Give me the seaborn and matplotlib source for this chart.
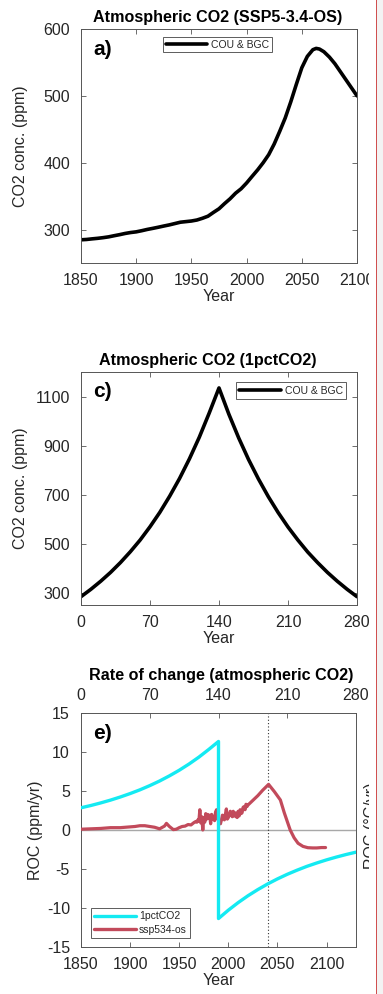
import numpy as np
import pandas as pd
import seaborn as sns
import matplotlib
matplotlib.use("Agg")
import matplotlib.pyplot as plt
from matplotlib.lines import Line2D
from matplotlib.patches import Rectangle

# ---------------- data ----------------
# Panel a: atmospheric CO2, SSP5-3.4-OS (historical + scenario)
ssp_years = [1850, 1855, 1860, 1865, 1870, 1875, 1880, 1885, 1890, 1895,
             1900, 1905, 1910, 1915, 1920, 1925, 1930, 1935, 1940, 1945,
             1950, 1955, 1960, 1965, 1970, 1975, 1980, 1985, 1990, 1995,
             2000, 2005, 2010, 2015, 2020, 2025, 2030, 2035, 2040, 2045,
             2050, 2055, 2060, 2063, 2066, 2070, 2075, 2080, 2085, 2090,
             2095, 2100]
ssp_co2 = [284.7, 285.2, 286.1, 286.9, 287.9, 289.1, 290.8, 292.4, 294.2, 295.6,
           296.6, 298.3, 300.2, 301.8, 303.5, 305.3, 307.0, 309.0, 311.0, 311.9,
           312.8, 314.3, 316.9, 320.0, 325.7, 331.1, 338.8, 346.0, 354.4, 361.0,
           369.7, 379.6, 389.3, 400.0, 412.0, 428.0, 447.0, 467.0, 491.0, 517.0,
           542.0, 559.0, 569.0, 571.0, 570.0, 566.0, 558.0, 548.0, 536.0, 524.0,
           512.0, 500.0]

# Panel c: atmospheric CO2, 1pctCO2 up / down
pct_years = [0, 10, 20, 30, 40, 50, 60, 70, 80, 90, 100, 110, 120, 130, 140,
             150, 160, 170, 180, 190, 200, 210, 220, 230, 240, 250, 260, 270, 280]
pct_co2 = [284, 314, 347, 383, 423, 467, 515, 569, 628, 694, 766, 846, 934, 1032, 1135,
           1028, 931, 843, 764, 692, 627, 568, 515, 466, 423, 383, 347, 314, 284]

# Panel e: rate of change, 1pctCO2 (top axis, model years)
roc_pct_years = [0, 10, 20, 30, 40, 50, 60, 70, 80, 90, 100, 110, 120, 130, 140,
                 140, 150, 160, 170, 180, 190, 200, 210, 220, 230, 240, 250, 260, 270, 280]
roc_pct = [2.85, 3.14, 3.47, 3.83, 4.23, 4.67, 5.15, 5.69, 6.28, 6.94, 7.66, 8.46, 9.34, 10.32, 11.35,
           -11.35, -10.28, -9.31, -8.43, -7.64, -6.92, -6.27, -5.68, -5.15, -4.66, -4.23, -3.83,
           -3.47, -3.14, -2.84]

# Panel e: rate of change, ssp534-os (bottom axis, calendar years)
roc_ssp_years = ([1850, 1860, 1870, 1880, 1890, 1900, 1905, 1910, 1915, 1920, 1925, 1930,
                  1935, 1937, 1940, 1944, 1947, 1950, 1953, 1956, 1959, 1962, 1965, 1967]
                 + list(range(1968, 2021))
                 + [2025, 2030, 2035, 2041, 2047, 2053, 2057, 2063, 2067, 2071, 2076,
                    2081, 2086, 2090, 2095, 2099])
roc_ssp = ([0.10, 0.15, 0.20, 0.30, 0.30, 0.40, 0.45, 0.55, 0.55, 0.45, 0.35, 0.15,
            0.50, 0.85, 0.45, 0.05, 0.10, 0.30, 0.45, 0.50, 0.70, 0.65, 0.95, 1.10]
           + [1.0, 1.3, 1.1, 2.6, 0.9, 1.7, 0.0, 1.6, 1.0, 2.1, 1.4, 2.0, 1.5, 1.9, 0.8,
              2.0, 1.4, 1.6, 1.2, 2.3, 2.6, 1.5, 1.2, 1.0, 0.8, 1.3, 1.9, 1.7, 1.3, 2.0,
              2.7, 1.4, 1.6, 1.9, 2.4, 2.2, 1.7, 2.4, 1.8, 2.2, 1.7, 1.6, 2.4, 1.8, 2.6,
              2.1, 2.2, 2.9, 3.0, 2.6, 3.3, 3.0, 3.2]
           + [3.8, 4.4, 5.1, 5.85, 4.9, 3.85, 2.2, 0.0, -1.0, -1.7, -2.1,
              -2.27, -2.3, -2.3, -2.25, -2.25])

marker_year = 2040

# ---------------- style ----------------
sns.set_theme(style="white")
plt.rcParams["font.family"] = ["Liberation Sans", "DejaVu Sans"]
plt.rcParams["axes.unicode_minus"] = False
TXT = "#262626"
SPINE = "#555555"
FS = 11.5

W, H = 383, 994
fig = plt.figure(figsize=(W / 100, H / 100), dpi=100)
fig.patch.set_facecolor("white")


def axes_px(left, top, right, bottom):
    return fig.add_axes([left / W, 1 - bottom / H, (right - left) / W, (bottom - top) / H])


def style_axes(ax, top=True, right=True):
    for s in ax.spines.values():
        s.set_color(SPINE)
        s.set_linewidth(0.7)
    ax.tick_params(direction="in", length=3.5, width=0.6, color=SPINE,
                   labelsize=FS, labelcolor=TXT, top=top, right=right,
                   left=True, bottom=True)
    ax.tick_params(axis="x", pad=7)
    ax.tick_params(axis="y", pad=8)


def place_ylabel(ax, right_px, left_axis_px, width_px):
    ax.yaxis.set_label_coords((right_px - left_axis_px) / width_px, 0.5)


# ---- panel a ----
ax1 = axes_px(81, 29, 357, 263)
df_a = pd.DataFrame({"Year": ssp_years, "CO2": ssp_co2})
sns.lineplot(data=df_a, x="Year", y="CO2", ax=ax1, color="black", linewidth=2.6,
             label="COU & BGC")
ax1.set_xlim(1850, 2100)
ax1.set_ylim(250, 600)
ax1.set_xticks([1850, 1900, 1950, 2000, 2050, 2100])
ax1.set_yticks([300, 400, 500, 600])
ax1.set_xlabel("Year", fontsize=FS, color=TXT, labelpad=1)
ax1.set_ylabel("CO2 conc. (ppm)", fontsize=FS, color=TXT)
place_ylabel(ax1, 28, 81, 276)
style_axes(ax1)
ax1.text(0.045, 0.955, "a)", transform=ax1.transAxes, fontsize=15, fontweight="bold",
         va="top", ha="left", color="black")
leg = ax1.legend(loc="upper center", bbox_to_anchor=(0.495, 0.965), fontsize=7.5,
                 frameon=True, fancybox=False, edgecolor="#333333", handlelength=4.0,
                 borderpad=0.25, handletextpad=0.4, borderaxespad=0)
leg.get_frame().set_linewidth(0.7)

# ---- panel c ----
ax2 = axes_px(81, 372, 357, 605)
df_c = pd.DataFrame({"Year": pct_years, "CO2": pct_co2})
sns.lineplot(data=df_c, x="Year", y="CO2", ax=ax2, color="black", linewidth=2.6,
             label="COU & BGC")
ax2.set_xlim(0, 280)
ax2.set_ylim(250, 1200)
ax2.set_xticks([0, 70, 140, 210, 280])
ax2.set_yticks([300, 500, 700, 900, 1100])
ax2.set_xlabel("Year", fontsize=FS, color=TXT, labelpad=1)
ax2.set_ylabel("CO2 conc. (ppm)", fontsize=FS, color=TXT)
place_ylabel(ax2, 28, 81, 276)
style_axes(ax2)
ax2.text(0.045, 0.955, "c)", transform=ax2.transAxes, fontsize=15, fontweight="bold",
         va="top", ha="left", color="black")
leg = ax2.legend(loc="upper right", bbox_to_anchor=(0.96, 0.955), fontsize=7.5,
                 frameon=True, fancybox=False, edgecolor="#333333", handlelength=4.0,
                 borderpad=0.3, handletextpad=0.4, borderaxespad=0)
leg.get_frame().set_linewidth(0.7)

# ---- panel e ----
CYAN = "#14eaf2"
RED = "#c24a5b"
ax3 = axes_px(81, 713, 356, 947)
ax3.axhline(0, color="#a8a8a8", linewidth=1.0, zorder=1)
ax3.axvline(marker_year, color="#333333", linewidth=0.8, linestyle=(0, (1, 2)), zorder=1)
df_e2 = pd.DataFrame({"Year": roc_ssp_years, "ROC": roc_ssp})
sns.lineplot(data=df_e2, x="Year", y="ROC", ax=ax3, color=RED, linewidth=2.3,
             legend=False, zorder=3)
ax3.set_xlim(1850, 2130)
ax3.set_ylim(-15, 15)
ax3.set_xticks([1850, 1900, 1950, 2000, 2050, 2100])
ax3.set_yticks([-15, -10, -5, 0, 5, 10, 15])
ax3.set_xlabel("Year", fontsize=FS, color=TXT, labelpad=1)
ax3.set_ylabel("ROC (ppm/yr)", fontsize=FS, color=TXT)
place_ylabel(ax3, 43, 81, 275)
style_axes(ax3, top=False, right=False)

ax3t = ax3.twiny()
df_e1 = pd.DataFrame({"Year": roc_pct_years, "ROC": roc_pct})
sns.lineplot(data=df_e1, x="Year", y="ROC", ax=ax3t, color=CYAN, linewidth=2.4,
             legend=False, sort=False, estimator=None)
ax3t.set_xlim(0, 280)
ax3t.set_xticks([0, 70, 140, 210, 280])
ax3t.set_xlabel("")
ax3t.set_ylabel("")
for s in ax3t.spines.values():
    s.set_visible(False)
ax3t.tick_params(axis="x", direction="in", length=3.5, width=0.6, color=SPINE,
                 labelsize=FS, labelcolor=TXT, top=True, labeltop=True, pad=7)
ax3.text(0.045, 0.955, "e)", transform=ax3.transAxes, fontsize=15, fontweight="bold",
         va="top", ha="left", color="black")
handles = [Line2D([0], [0], color=CYAN, linewidth=2.4),
           Line2D([0], [0], color=RED, linewidth=2.4)]
leg = ax3t.legend(handles, ["1pctCO2", "ssp534-os"], loc="lower left",
                  bbox_to_anchor=(0.036, 0.04), fontsize=7.5, frameon=True,
                  fancybox=False, edgecolor="#333333", handlelength=4.0,
                  borderpad=0.3, handletextpad=0.3, labelspacing=0.3, borderaxespad=0)
leg.get_frame().set_linewidth(0.7)

# right-hand axis label (partially cut off in the reference)
fig.text(364 / W, 1 - 869 / H, "ROC (°C/yr)", rotation=90, fontsize=FS, color=TXT,
         ha="left", va="bottom")

# titles
fig.text(218 / W, 1 - 22 / H, "Atmospheric CO2 (SSP5-3.4-OS)", fontsize=11.6,
         fontweight="bold", ha="center", va="baseline", color="black")
fig.text(208 / W, 1 - 365 / H, "Atmospheric CO2 (1pctCO2)", fontsize=11.6,
         fontweight="bold", ha="center", va="baseline", color="black")
fig.text(221 / W, 1 - 680 / H, "Rate of change (atmospheric CO2)", fontsize=11.6,
         fontweight="bold", ha="center", va="baseline", color="black")

# crop margin of the original screenshot
fig.patches.append(Rectangle((369 / W, 0), 7 / W, 1, transform=fig.transFigure,
                             facecolor="white", edgecolor="none", zorder=50))
fig.patches.append(Rectangle((376 / W, 0), 1.2 / W, 1, transform=fig.transFigure,
                             facecolor="#d05050", edgecolor="none", zorder=51))
fig.patches.append(Rectangle((377.2 / W, 0), 6 / W, 1, transform=fig.transFigure,
                             facecolor="#f3f3f3", edgecolor="none", zorder=51))

fig.savefig("out.png", dpi=100)
